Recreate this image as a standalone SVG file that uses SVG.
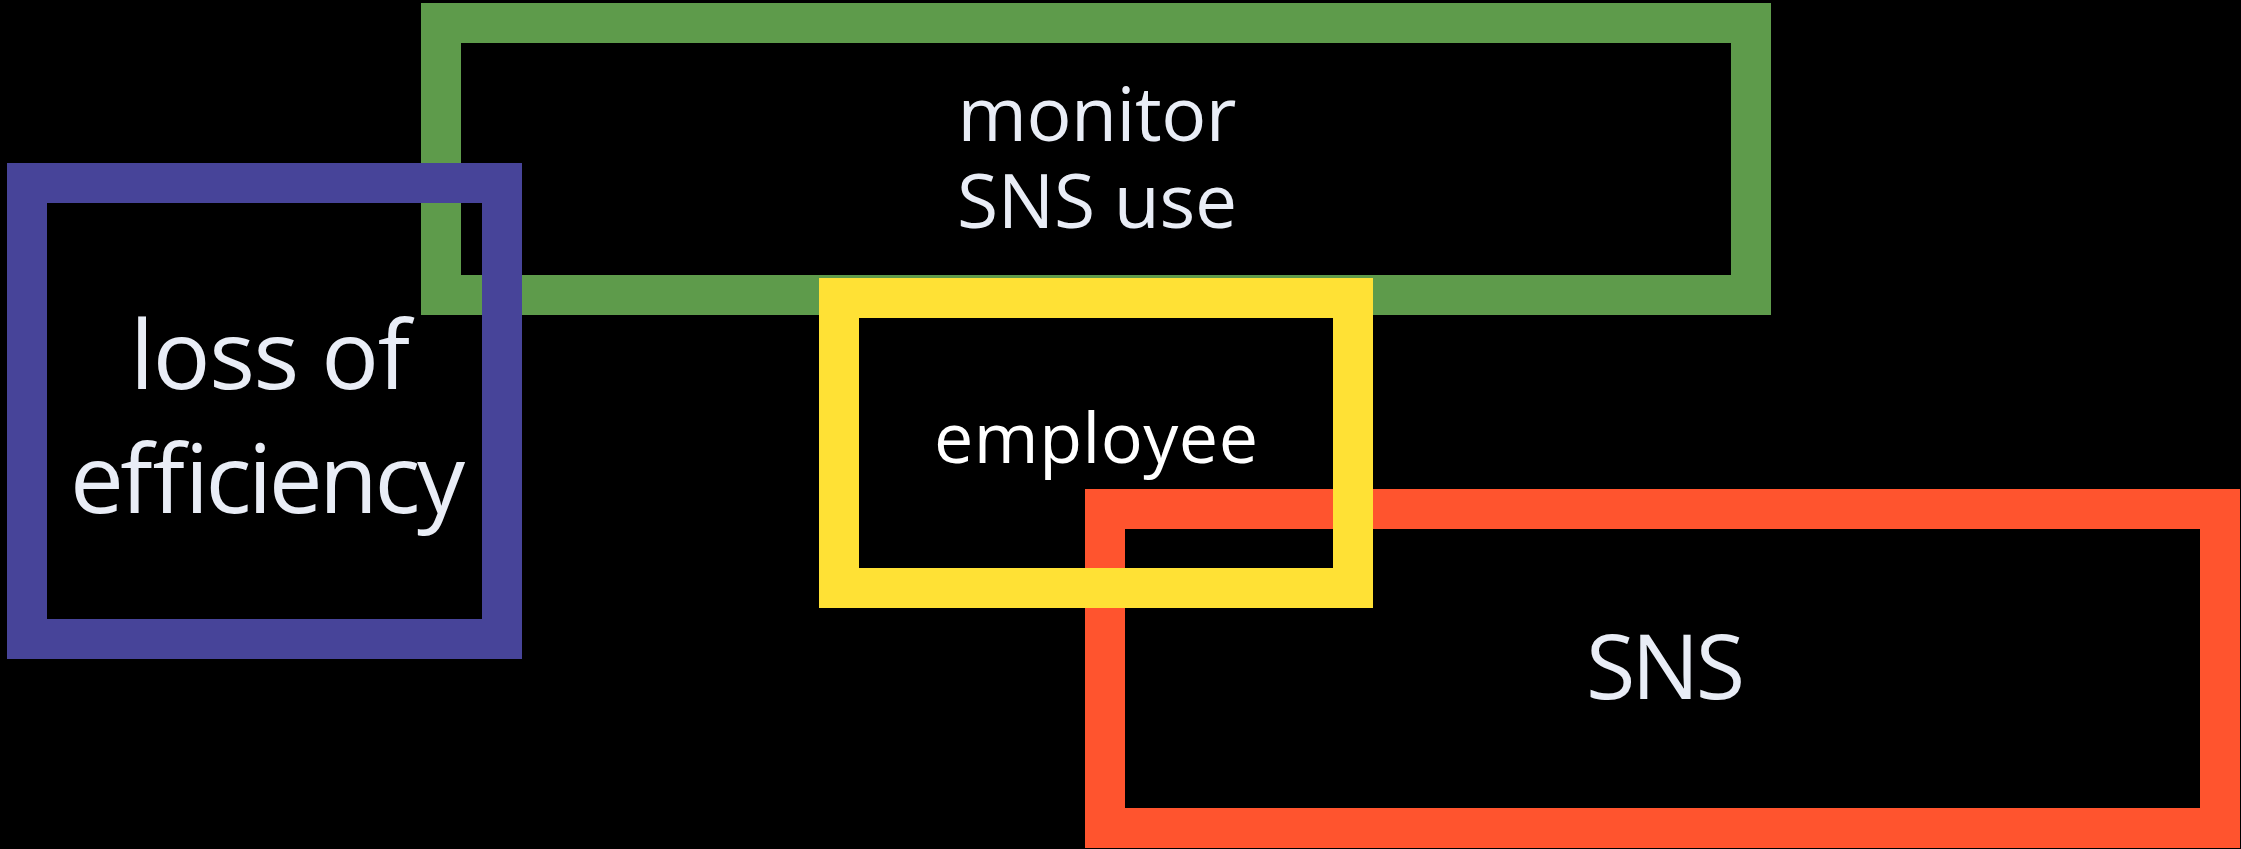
<svg xmlns="http://www.w3.org/2000/svg" width="2241" height="849" viewBox="0 0 2241 849">
<style>
.box{fill:none;stroke-width:40}
.lbl{font-family:"Open Sans","Liberation Sans",sans-serif;fill:#e9edf6;text-anchor:middle}
</style>
<rect width="2241" height="849" fill="#000"/>
<g id="connectors"></g>
<g id="monitor">
<rect class="box" x="441" y="23" width="1310" height="272" stroke="#5e9b4b"/>
<text class="lbl" x="1097" y="141" font-size="75" textLength="279">monitor</text>
<text class="lbl" x="1097" y="228" font-size="75" textLength="280">SNS use</text>
</g>
<g id="loss">
<rect class="box" x="27" y="183" width="475" height="456" stroke="#474499"/>
<text class="lbl" x="270" y="389" font-size="96" textLength="280">loss of</text>
<text class="lbl" x="267.5" y="513" font-size="96" textLength="395">efficiency</text>
</g>
<g id="sns">
<rect class="box" x="1105" y="509" width="1115" height="319" stroke="#ff542e"/>
<text class="lbl" x="1665.5" y="699" font-size="90" textLength="159">SNS</text>
</g>
<g id="employee">
<rect class="box" x="839" y="298" width="514" height="290" stroke="#ffe135"/>
<text class="lbl" x="1096" y="463" font-size="70" textLength="324" style="fill:#ffffff">employee</text>
</g>
</svg>
